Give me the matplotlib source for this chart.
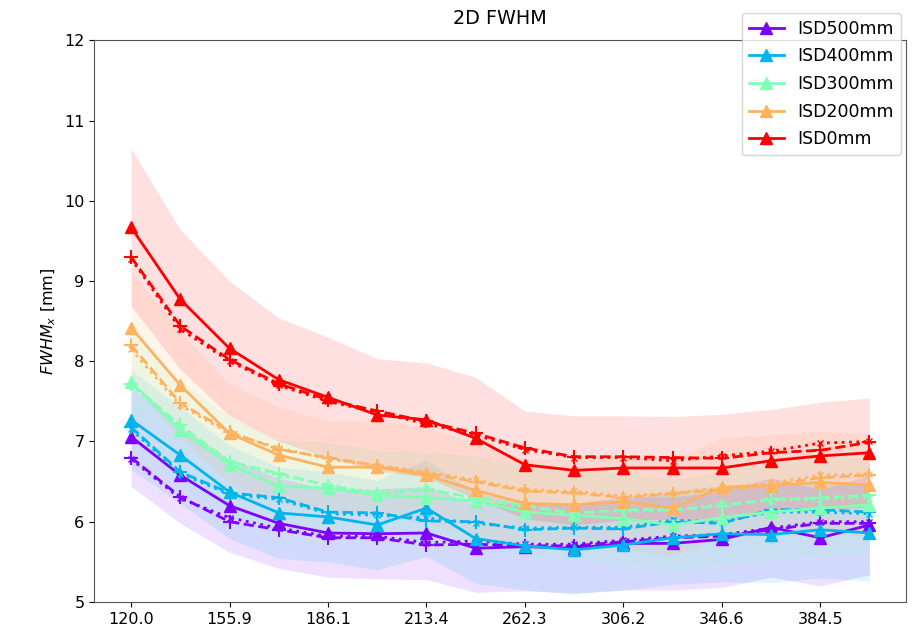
import matplotlib
matplotlib.use("Agg")
import matplotlib.pyplot as plt
import numpy as np

# source-to-image distance series
labels = ["ISD500mm", "ISD400mm", "ISD300mm", "ISD200mm", "ISD0mm"]
tick_labels = ["120.0", "155.9", "186.1", "213.4", "262.3", "306.2", "346.6", "384.5"]

# mean FWHM (solid, triangles)
mean_500 = [7.06, 6.58, 6.20, 5.98, 5.86, 5.85, 5.86, 5.67, 5.69, 5.67, 5.73, 5.73, 5.78, 5.93, 5.80, 5.96]
mean_400 = [7.27, 6.83, 6.37, 6.11, 6.06, 5.96, 6.17, 5.79, 5.70, 5.65, 5.71, 5.80, 5.85, 5.84, 5.90, 5.86]
mean_300 = [7.74, 7.14, 6.71, 6.44, 6.42, 6.33, 6.30, 6.26, 6.12, 6.08, 6.04, 5.96, 6.05, 6.12, 6.17, 6.21]
mean_200 = [8.42, 7.70, 7.10, 6.83, 6.68, 6.68, 6.58, 6.39, 6.23, 6.21, 6.25, 6.17, 6.43, 6.45, 6.49, 6.46]
mean_0 = [9.67, 8.77, 8.16, 7.77, 7.55, 7.33, 7.27, 7.04, 6.71, 6.64, 6.67, 6.67, 6.67, 6.76, 6.82, 6.86]

# median FWHM (dashed, plus markers)
med_500 = [6.80, 6.31, 6.00, 5.90, 5.80, 5.80, 5.71, 5.72, 5.70, 5.70, 5.75, 5.80, 5.82, 5.90, 5.98, 5.98]
med_400 = [7.18, 6.62, 6.36, 6.30, 6.12, 6.11, 6.01, 6.00, 5.90, 5.92, 5.91, 6.00, 5.98, 6.15, 6.15, 6.12]
med_300 = [7.72, 7.20, 6.75, 6.60, 6.45, 6.35, 6.40, 6.30, 6.20, 6.10, 6.15, 6.15, 6.20, 6.28, 6.30, 6.33]
med_200 = [8.20, 7.48, 7.12, 6.90, 6.80, 6.70, 6.60, 6.50, 6.38, 6.36, 6.30, 6.35, 6.40, 6.45, 6.55, 6.58]
med_0 = [9.30, 8.44, 8.02, 7.72, 7.52, 7.38, 7.25, 7.10, 6.92, 6.81, 6.81, 6.80, 6.79, 6.86, 6.89, 6.99]

# trimmed FWHM (dotted, x markers)
trim_500 = [6.78, 6.29, 6.05, 5.92, 5.82, 5.82, 5.74, 5.76, 5.72, 5.72, 5.77, 5.82, 5.84, 5.92, 6.00, 6.00]
trim_400 = [7.15, 6.60, 6.34, 6.28, 6.10, 6.08, 6.05, 5.98, 5.92, 5.93, 5.93, 6.02, 6.00, 6.12, 6.12, 6.10]
trim_300 = [7.70, 7.18, 6.73, 6.58, 6.46, 6.36, 6.42, 6.28, 6.18, 6.12, 6.13, 6.14, 6.22, 6.26, 6.28, 6.30]
trim_200 = [8.15, 7.45, 7.10, 6.92, 6.78, 6.70, 6.62, 6.52, 6.40, 6.38, 6.32, 6.36, 6.42, 6.48, 6.58, 6.60]
trim_0 = [9.28, 8.40, 8.00, 7.70, 7.50, 7.36, 7.22, 7.08, 6.90, 6.80, 6.80, 6.76, 6.82, 6.88, 6.98, 7.00]

# spread of the shaded band
sd_500 = [0.62, 0.60, 0.58, 0.56, 0.55, 0.56, 0.58, 0.55, 0.55, 0.56, 0.58, 0.58, 0.60, 0.62, 0.60, 0.62]
sd_400 = [0.62, 0.60, 0.58, 0.57, 0.56, 0.56, 0.60, 0.56, 0.55, 0.55, 0.56, 0.58, 0.60, 0.60, 0.60, 0.60]
sd_300 = [0.64, 0.62, 0.60, 0.58, 0.57, 0.56, 0.57, 0.56, 0.55, 0.55, 0.56, 0.57, 0.58, 0.60, 0.60, 0.60]
sd_200 = [0.70, 0.66, 0.62, 0.60, 0.58, 0.58, 0.60, 0.58, 0.56, 0.56, 0.58, 0.60, 0.62, 0.63, 0.64, 0.64]
sd_0 = [0.98, 0.87, 0.84, 0.77, 0.75, 0.70, 0.71, 0.76, 0.67, 0.68, 0.65, 0.64, 0.67, 0.64, 0.67, 0.68]

means = [mean_500, mean_400, mean_300, mean_200, mean_0]
meds = [med_500, med_400, med_300, med_200, med_0]
trims = [trim_500, trim_400, trim_300, trim_200, trim_0]
sds = [sd_500, sd_400, sd_300, sd_200, sd_0]

plt.rcParams["font.size"] = 11.5

fig = plt.figure(figsize=(9.23, 6.34), dpi=100)
ax = fig.add_axes([0.102, 0.0505, 0.880, 0.886])

colors = plt.cm.rainbow(np.linspace(0, 1, len(labels)))
x = np.arange(len(mean_0))

for lab, c, m, md, tr, sd in zip(labels, colors, means, meds, trims, sds):
    m = np.array(m)
    sd = np.array(sd)
    ax.fill_between(x, m - sd, m + sd, color=c, alpha=0.12, linewidth=0)
    ax.plot(x, m, "-", marker="^", color=c, lw=2, ms=8, label=lab)
    ax.plot(x, md, "--", marker="+", color=c, lw=2, ms=10, mew=1.5)
    ax.plot(x, tr, ":", marker="x", color=c, lw=2, ms=5, mew=1.0)

ax.set_ylim(5, 12)
ax.set_xticks(x[::2])
ax.set_xticklabels(tick_labels)
ax.set_ylabel("$FWHM_x$ [mm]")
ax.set_title("2D FWHM", pad=12)
for s in ax.spines.values():
    s.set_color("#555555")

ax.legend(loc="upper right", bbox_to_anchor=(1.004, 1.064), fontsize=12.5,
          labelspacing=0.55)

fig.savefig("out.png", dpi=100)
